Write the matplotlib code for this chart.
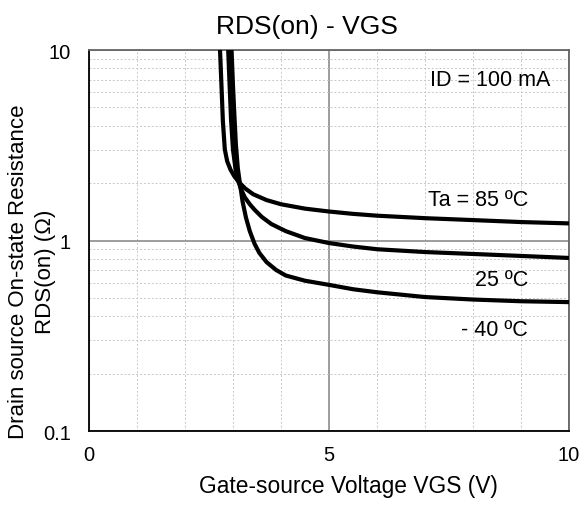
import numpy as np
import matplotlib.pyplot as plt
from matplotlib.ticker import FixedLocator, NullFormatter

plt.rcParams['font.family'] = ['Liberation Sans', 'DejaVu Sans']

# curve points: VGS (V), RDS(on) (ohm)
vgs_85 = [2.73, 2.76, 2.79, 2.83, 2.88, 2.95, 3.03, 3.12, 3.25, 3.42, 3.7, 4.0, 4.5, 5.0, 5.5, 6.0, 7.0, 8.0, 9.0, 10.0]
rds_85 = [10.0, 6.5, 4.2, 3.0, 2.6, 2.35, 2.17, 2.03, 1.88, 1.75, 1.63, 1.55, 1.47, 1.42, 1.38, 1.35, 1.31, 1.28, 1.25, 1.23]

vgs_25 = [2.9, 2.93, 2.96, 3.0, 3.05, 3.1, 3.17, 3.25, 3.35, 3.45, 3.6, 3.8, 4.1, 4.5, 5.0, 5.5, 6.0, 7.0, 8.0, 9.0, 10.0]
rds_25 = [10.0, 6.5, 4.3, 3.0, 2.4, 2.08, 1.85, 1.68, 1.55, 1.45, 1.33, 1.22, 1.12, 1.03, 0.97, 0.93, 0.9, 0.87, 0.85, 0.83, 0.81]

vgs_m40 = [2.97, 3.0, 3.03, 3.06, 3.1, 3.15, 3.2, 3.27, 3.35, 3.45, 3.55, 3.7, 3.9, 4.1, 4.5, 5.0, 5.5, 6.0, 7.0, 8.0, 9.0, 10.0]
rds_m40 = [10.0, 6.5, 4.5, 3.2, 2.4, 1.95, 1.6, 1.32, 1.12, 0.96, 0.86, 0.77, 0.7, 0.655, 0.615, 0.585, 0.555, 0.535, 0.505, 0.49, 0.48, 0.475]

fig = plt.figure(figsize=(5.79, 5.06), dpi=100)
ax = fig.add_axes([0.1537, 0.1462, 0.829, 0.7530])

for xv, yv in [(vgs_85, rds_85), (vgs_25, rds_25), (vgs_m40, rds_m40)]:
    ax.plot(xv, yv, color='black', lw=3, solid_capstyle='butt', zorder=3)

ax.set_yscale('log')
ax.set_xlim(0, 10)
ax.set_ylim(0.1, 10)

ax.xaxis.set_major_locator(FixedLocator([0, 5, 10]))
ax.xaxis.set_minor_locator(FixedLocator([1, 2, 3, 4, 6, 7, 8, 9]))
ax.yaxis.set_major_locator(FixedLocator([0.1, 1, 10]))
ax.yaxis.set_minor_locator(FixedLocator([k * d for d in (0.1, 1) for k in range(2, 10)]))
ax.yaxis.set_minor_formatter(NullFormatter())
ax.set_yticklabels(['0.1', '1', '10'])

ax.grid(which='major', color='#8c8c8c', lw=1.2, ls='-')
ax.grid(which='minor', color='#c8c8c8', lw=0.7, ls=(0, (2, 2)))
ax.tick_params(which='both', length=0, labelsize=14.5)
ax.tick_params(axis='x', pad=10)
ax.tick_params(axis='y', pad=13)

for s in ['left', 'bottom']:
    ax.spines[s].set_color('black')
    ax.spines[s].set_linewidth(1.3)
for s in ['top', 'right']:
    ax.spines[s].set_color('#666666')
    ax.spines[s].set_linewidth(1.3)

ax.set_title('RDS(on) - VGS', fontsize=19, pad=12, x=0.454)
ax.set_xlabel('Gate-source Voltage VGS (V)', fontsize=16.4)
ax.xaxis.set_label_coords(0.54, -0.113)

# y label, two lines placed separately
fig.text(19 / 579, 1 - 272 / 506, 'Drain source On-state Resistance',
         fontsize=16, rotation=90, ha='center', va='center')
fig.text(46 / 579, 1 - 272 / 506, 'RDS(on) (Ω)',
         fontsize=16, rotation=90, ha='center', va='center')

ax.text(9.62, 7.0, 'ID = 100 mA', fontsize=15.5, ha='right', va='center')
ax.text(9.15, 1.64, 'Ta = 85 ºC', fontsize=15.5, ha='right', va='center')
ax.text(9.15, 0.623, '25 ºC', fontsize=15.5, ha='right', va='center')
ax.text(9.15, 0.34, '- 40 ºC', fontsize=15.5, ha='right', va='center')

fig.savefig('out.png', dpi=100)
